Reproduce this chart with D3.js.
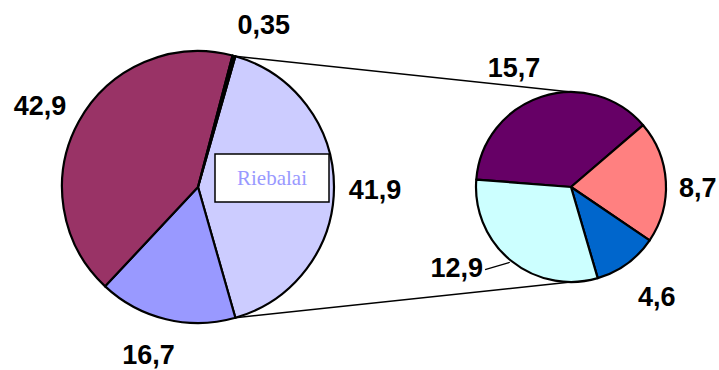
<!DOCTYPE html>
<html>
<head>
<meta charset="utf-8">
<script src="https://cdn.jsdelivr.net/npm/d3@7"></script>
<style>
  html, body { margin: 0; padding: 0; background: #fff; }
  svg { display: block; }
</style>
</head>
<body>
<div id="chart"></div>
<script>
// main pie (the "Riebalai" slice is broken out into the small pie)
const mainLabels = ["41,9", "16,7", "42,9", "0,35"];
const mainValues = [41.9, 16.7, 42.9, 0.35];
const mainColors = ["#CCCCFF", "#9999FF", "#993366", "#000000"];

// secondary pie
const subLabels = ["15,7", "8,7", "4,6", "12,9"];
const subValues = [15.7, 8.7, 4.6, 12.9];
const subColors = ["#660066", "#FF8080", "#0066CC", "#CCFFFF"];

const otherName = "Riebalai";

const width = 719, height = 370;

const svg = d3.select("#chart")
    .append("svg")
    .attr("width", width)
    .attr("height", height)

svg.append("rect")
    .attr("width", width)
    .attr("height", height)
    .attr("fill", "#fff")

const deg = Math.PI / 180;

// --- main pie ---
const main = { cx: 198, cy: 187, r: 136, labelR: 177 };
const mainTotal = d3.sum(mainValues);
const otherSpan = mainValues[0] / mainTotal * 360;
const mainStart = (90 - otherSpan / 2) * deg;

const mainPie = d3.pie().sort(null).value(d => d)
    .startAngle(mainStart).endAngle(mainStart + 2 * Math.PI);
const mainArcs = mainPie(mainValues);
const mainArc = d3.arc().innerRadius(0).outerRadius(main.r);

const gMain = svg.append("g").attr("transform", `translate(${main.cx},${main.cy})`);

gMain.selectAll("path")
    .data(mainArcs)
    .join("path")
    .attr("d", mainArc)
    .attr("fill", (d, i) => mainColors[i])
    .attr("stroke", "#000")
    .attr("stroke-width", 2.2)
    .attr("stroke-linejoin", "round")

// --- secondary pie ---
const sub = { cx: 571, cy: 187, r: 95, labelR: 132 };
const subStart = -85.5 * deg;
const subPie = d3.pie().sort(null).value(d => d)
    .startAngle(subStart).endAngle(subStart + 2 * Math.PI);
const subArcs = subPie(subValues);
const subArc = d3.arc().innerRadius(0).outerRadius(sub.r);

const gSub = svg.append("g").attr("transform", `translate(${sub.cx},${sub.cy})`);

gSub.selectAll("path")
    .data(subArcs)
    .join("path")
    .attr("d", subArc)
    .attr("fill", (d, i) => subColors[i])
    .attr("stroke", "#000")
    .attr("stroke-width", 2.2)
    .attr("stroke-linejoin", "round")

// connector lines between the two pies
const polar = (cx, cy, r, a) => [cx + r * Math.sin(a), cy - r * Math.cos(a)];
const otherArc = mainArcs[0];
const connectors = [
    [polar(main.cx, main.cy, main.r, otherArc.startAngle), [sub.cx, sub.cy - sub.r]],
    [polar(main.cx, main.cy, main.r, otherArc.endAngle), [sub.cx, sub.cy + sub.r]]
];
svg.selectAll(".connector")
    .data(connectors)
    .join("line")
    .attr("class", "connector")
    .attr("x1", d => d[0][0]).attr("y1", d => d[0][1])
    .attr("x2", d => d[1][0]).attr("y2", d => d[1][1])
    .attr("stroke", "#000")
    .attr("stroke-width", 1.6)

// value labels
const labelFont = "'Liberation Sans', Arial, sans-serif";
const nudge = {
    "42,9": [-3, 4], "16,7": [-8, -5], "0,35": [19, 8], "41,9": [0, 2],
    "15,7": [-16, 6], "8,7": [-5, 8], "4,6": [8, 3], "12,9": [-31, -22]
};

function drawLabels(g, arcs, labels, labelR) {
    g.selectAll("text.val")
        .data(arcs)
        .join("text")
        .attr("class", "val")
        .attr("x", (d, i) => labelR * Math.sin((d.startAngle + d.endAngle) / 2) + nudge[labels[i]][0])
        .attr("y", (d, i) => -labelR * Math.cos((d.startAngle + d.endAngle) / 2) + nudge[labels[i]][1])
        .attr("dy", "0.36em")
        .attr("text-anchor", "middle")
        .attr("font-family", labelFont)
        .attr("font-weight", "bold")
        .attr("font-size", 27)
        .attr("fill", "#000")
        .text((d, i) => labels[i])
}
drawLabels(gMain, mainArcs, mainLabels, main.labelR);
drawLabels(gSub, subArcs, subLabels, sub.labelR);

// leader line for the moved "12,9" label
const cyan = subArcs[3];
const cyanMid = (cyan.startAngle + cyan.endAngle) / 2;
const cyanLbl = gSub.selectAll("text.val").filter((d, i) => i === 3).node().getBBox();
const edge = polar(0, 0, sub.r + 2, cyanMid);
gSub.append("line")
    .attr("x1", cyanLbl.x + cyanLbl.width + 2)
    .attr("y1", cyanLbl.y + cyanLbl.height * 0.55)
    .attr("x2", edge[0])
    .attr("y2", edge[1])
    .attr("stroke", "#000")
    .attr("stroke-width", 1.2)

// category label box on the broken-out slice
const box = gMain.append("g").attr("transform", "translate(17,-33)");
box.append("rect")
    .attr("width", 114)
    .attr("height", 48)
    .attr("fill", "#fff")
    .attr("stroke", "#000")
    .attr("stroke-width", 1.5)
box.append("text")
    .attr("x", 57)
    .attr("y", 31)
    .attr("text-anchor", "middle")
    .attr("font-family", "'Liberation Serif', 'Times New Roman', serif")
    .attr("font-size", 21)
    .attr("fill", "#9999FF")
    .text(otherName)
</script>
</body>
</html>
